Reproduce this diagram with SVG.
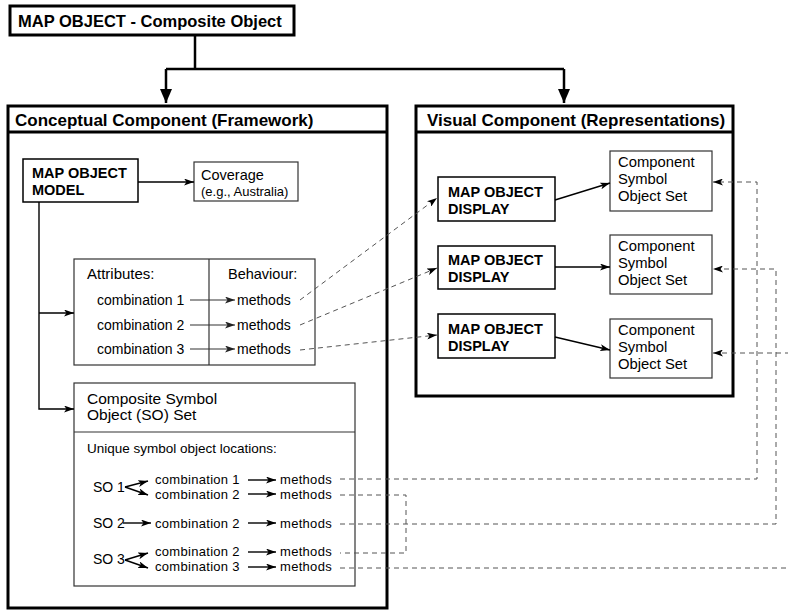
<svg xmlns="http://www.w3.org/2000/svg" width="788" height="612" viewBox="0 0 788 612">
<style>
text{font-family:"Liberation Sans",Arial,sans-serif;fill:#000}
.b{font-weight:bold}
.so{font-size:13px;letter-spacing:0.3px}
.cs{font-size:14.8px}
.big{stroke:#000;stroke-width:3;fill:#fff}
.bold{stroke:#000;stroke-width:1.5;fill:#fff}
.thin{stroke:#333;stroke-width:1.2;fill:#fff}
.sep{stroke:#333;stroke-width:1.2;fill:none}
.main{stroke:#000;stroke-width:2.5;fill:none}
.ln{stroke:#000;stroke-width:1.4;fill:none}
.gl{stroke:#333;stroke-width:1.2;fill:none}
.dash{stroke:#555;stroke-width:1;fill:none;stroke-dasharray:5 4}
</style>
<defs>
<marker id="big" markerUnits="userSpaceOnUse" markerWidth="14" markerHeight="14" refX="14" refY="6" orient="auto" viewBox="0 0 14 12">
<path d="M0,0 L14,6 L0,12 z" fill="#000"/>
</marker>
<marker id="a" markerUnits="userSpaceOnUse" markerWidth="10" markerHeight="7" refX="10" refY="3.5" orient="auto" viewBox="0 0 10 7">
<path d="M0,0 L10,3.5 L0,7 L2.5,3.5 z" fill="#000"/>
</marker>
<marker id="ag" markerUnits="userSpaceOnUse" markerWidth="10" markerHeight="7" refX="10" refY="3.5" orient="auto" viewBox="0 0 10 7">
<path d="M0,0 L10,3.5 L0,7 L2.5,3.5 z" fill="#222"/>
</marker>
</defs>

<g id="title">
<rect class="big" x="10" y="6" width="284" height="29"/>
<text class="b" x="18" y="27" font-size="16.5">MAP OBJECT - Composite Object</text>
</g>

<g id="conceptual">
<rect class="big" x="8" y="106" width="379" height="502"/>
<line x1="8" y1="132" x2="387" y2="132" stroke="#000" stroke-width="3"/>
<text class="b" x="15" y="126" font-size="17">Conceptual Component (Framework)</text>
</g>

<g id="visual">
<rect class="big" x="416" y="106" width="317" height="290"/>
<line x1="416" y1="132" x2="733" y2="132" stroke="#000" stroke-width="3"/>
<text class="b" x="427" y="126" font-size="17">Visual Component (Representations)</text>
</g>

<g id="model">
<rect class="bold" x="23" y="159" width="115" height="43"/>
<text class="b" x="32" y="178" font-size="14.5">MAP OBJECT</text>
<text class="b" x="32" y="195" font-size="14.5">MODEL</text>
</g>

<g id="coverage">
<rect class="thin" x="194" y="162" width="104" height="39"/>
<text x="201" y="180" font-size="14.5">Coverage</text>
<text x="201" y="196" font-size="13">(e.g., Australia)</text>
</g>

<g id="attributes">
<rect class="thin" x="74" y="259" width="241" height="106"/>
<line class="sep" x1="209" y1="259" x2="209" y2="365"/>
<text x="87" y="279" font-size="15">Attributes:</text>
<text x="228" y="279" font-size="14.5">Behaviour:</text>
<text x="97" y="305" font-size="14">combination 1</text>
<text x="97" y="330" font-size="14">combination 2</text>
<text x="97" y="354" font-size="14">combination 3</text>
<text x="237" y="305" font-size="14">methods</text>
<text x="237" y="330" font-size="14">methods</text>
<text x="237" y="354" font-size="14">methods</text>
</g>

<g id="composite">
<rect class="thin" x="74" y="383" width="281" height="203"/>
<line class="sep" x1="74" y1="432" x2="355" y2="432"/>
<text x="87" y="404" font-size="15.5">Composite Symbol</text>
<text x="87" y="420" font-size="15.5">Object (SO) Set</text>
<text x="87" y="453" font-size="13.5">Unique symbol object locations:</text>
<text x="93" y="492" font-size="14">SO 1</text>
<text x="93" y="528" font-size="14">SO 2</text>
<text x="93" y="564" font-size="14">SO 3</text>
<text class="so" x="155" y="484">combination 1</text>
<text class="so" x="155" y="499">combination 2</text>
<text class="so" x="155" y="528">combination 2</text>
<text class="so" x="155" y="556">combination 2</text>
<text class="so" x="155" y="571">combination 3</text>
<text class="so" x="280" y="484">methods</text>
<text class="so" x="280" y="499">methods</text>
<text class="so" x="280" y="528">methods</text>
<text class="so" x="280" y="556">methods</text>
<text class="so" x="280" y="571">methods</text>
</g>

<g id="display1">
<rect class="bold" x="438" y="177" width="117" height="44"/>
<text class="b" x="448" y="197" font-size="14.5">MAP OBJECT</text>
<text class="b" x="448" y="214" font-size="14.5">DISPLAY</text>
</g>
<g id="display2">
<rect class="bold" x="438" y="246" width="117" height="43"/>
<text class="b" x="448" y="265" font-size="14.5">MAP OBJECT</text>
<text class="b" x="448" y="282" font-size="14.5">DISPLAY</text>
</g>
<g id="display3">
<rect class="bold" x="438" y="314" width="117" height="44"/>
<text class="b" x="448" y="334" font-size="14.5">MAP OBJECT</text>
<text class="b" x="448" y="351" font-size="14.5">DISPLAY</text>
</g>

<g id="symbolset1">
<rect class="thin" x="610" y="151" width="102" height="60"/>
<text class="cs" x="618" y="167">Component</text>
<text class="cs" x="618" y="184">Symbol</text>
<text class="cs" x="618" y="201">Object Set</text>
</g>
<g id="symbolset2">
<rect class="thin" x="610" y="235" width="102" height="59"/>
<text class="cs" x="618" y="251">Component</text>
<text class="cs" x="618" y="268">Symbol</text>
<text class="cs" x="618" y="285">Object Set</text>
</g>
<g id="symbolset3">
<rect class="thin" x="610" y="319" width="102" height="59"/>
<text class="cs" x="618" y="335">Component</text>
<text class="cs" x="618" y="352">Symbol</text>
<text class="cs" x="618" y="369">Object Set</text>
</g>

<g id="connectors">
<path class="main" d="M195,35 V69"/>
<path class="main" d="M166,69 H564"/>
<path class="main" d="M166,69 V103" marker-end="url(#big)"/>
<path class="main" d="M564,69 V103" marker-end="url(#big)"/>

<path class="ln" d="M138,182 H194" marker-end="url(#a)"/>
<path class="ln" d="M39,202 V409 H74" marker-end="url(#a)"/>
<path class="ln" d="M39,313 H74" marker-end="url(#a)"/>

<path class="gl" d="M190,300 H235" marker-end="url(#ag)"/>
<path class="gl" d="M190,325 H235" marker-end="url(#ag)"/>
<path class="gl" d="M190,349 H235" marker-end="url(#ag)"/>

<path class="ln" d="M125,487 L148,481" marker-end="url(#a)"/>
<path class="ln" d="M125,487 L148,495" marker-end="url(#a)"/>
<path class="ln" d="M123,523 H151" marker-end="url(#a)"/>
<path class="ln" d="M125,560 L148,553" marker-end="url(#a)"/>
<path class="ln" d="M125,560 L148,568" marker-end="url(#a)"/>
<path class="ln" d="M248,480 H276" marker-end="url(#a)"/>
<path class="ln" d="M248,494 H276" marker-end="url(#a)"/>
<path class="ln" d="M248,523 H276" marker-end="url(#a)"/>
<path class="ln" d="M248,552 H276" marker-end="url(#a)"/>
<path class="ln" d="M248,567 H276" marker-end="url(#a)"/>

<path class="ln" d="M555,200 L610,183" marker-end="url(#a)"/>
<path class="ln" d="M555,267 H610" marker-end="url(#a)"/>
<path class="ln" d="M555,337 L610,350" marker-end="url(#a)"/>

<path class="dash" d="M300,300 L437,198" marker-end="url(#a)"/>
<path class="dash" d="M300,325 L437,268" marker-end="url(#a)"/>
<path class="dash" d="M300,350 L437,335" marker-end="url(#a)"/>

<path class="dash" d="M340,479 H757 V182 H713" marker-end="url(#a)"/>
<path class="dash" d="M340,524 H776 V269 H713" marker-end="url(#a)"/>
<path class="dash" d="M340,568 H790"/>
<path class="dash" d="M790,353 H713" marker-end="url(#a)"/>
<path class="dash" d="M340,495 H406 V553 H340"/>
</g>
</svg>
